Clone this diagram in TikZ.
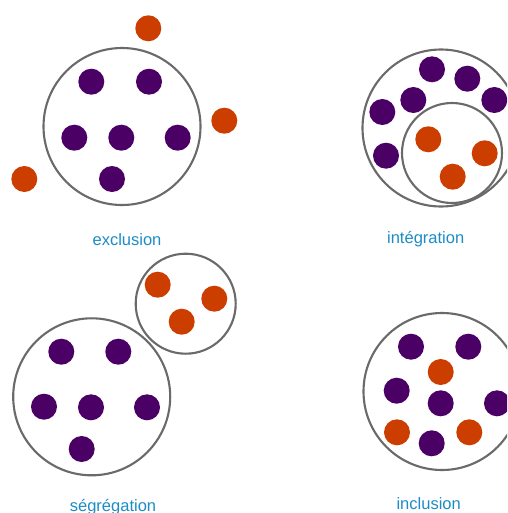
\documentclass[tikz,border=0pt]{standalone}
\usepackage{fontspec}
\setmainfont{Liberation Sans}

\definecolor{dotpurple}{HTML}{4B0066}
\definecolor{dotorange}{HTML}{CC3D00}
\definecolor{labelblue}{HTML}{1D8CC4}
\definecolor{ringgray}{HTML}{6A6A6A}

\begin{document}
\begin{tikzpicture}[
    x=0.2mm, y=-0.2mm, % one unit per pixel, y pointing down
    ring/.style={circle, draw=ringgray, line width=1.2pt, inner sep=0pt, minimum size=31.4mm},
    smallring/.style={ring, minimum size=20mm}, % sub-group circle
    purpledot/.style={circle, fill=dotpurple, inner sep=0pt, minimum size=5.2mm},
    orangedot/.style={purpledot, fill=dotorange},
    labelstyle/.style={font=\fontsize{9.4}{11}\selectfont, text=labelblue, anchor=base}
]
\clip (0,0) rectangle (507,513);

% exclusion
\node (excl_ring) [ring] at (122,126.5) {};
\node (excl_p1) [purpledot] at (91.3,81.7) {};
\node (excl_p2) [purpledot] at (149,81.7) {};
\node (excl_p3) [purpledot] at (74.3,137.7) {};
\node (excl_p4) [purpledot] at (121.3,137.7) {};
\node (excl_p5) [purpledot] at (177.7,137.7) {};
\node (excl_p6) [purpledot] at (112,179) {};
\node (excl_o1) [orangedot] at (148.3,28.3) {};
\node (excl_o2) [orangedot] at (224.3,120.7) {};
\node (excl_o3) [orangedot] at (24.3,179) {};
\node (excl_label) [labelstyle] at (127,245.7) {exclusion};

% integration: the orange group sits inside the big circle
\node (integ_ring) [ring] at (441,128) {};
\node (integ_inner) [smallring] at (452,153) {};
\node (integ_p1) [purpledot] at (432,69.3) {};
\node (integ_p2) [purpledot] at (467.3,78.7) {};
\node (integ_p3) [purpledot] at (494.3,100) {};
\node (integ_p4) [purpledot] at (413.3,100) {};
\node (integ_p5) [purpledot] at (382.3,112) {};
\node (integ_p6) [purpledot] at (386,155.7) {};
\node (integ_o1) [orangedot] at (428.3,139.3) {};
\node (integ_o2) [orangedot] at (484.7,153.3) {};
\node (integ_o3) [orangedot] at (452.7,176.7) {};
\node (integ_label) [labelstyle] at (425.7,243.5) {intégration};

% segregation: two separate circles
\node (segr_ring) [ring] at (91.7,396.8) {};
\node (segr_side) [smallring] at (185.7,303.7) {};
\node (segr_p1) [purpledot] at (61.3,351.7) {};
\node (segr_p2) [purpledot] at (118.3,351.7) {};
\node (segr_p3) [purpledot] at (44,406.7) {};
\node (segr_p4) [purpledot] at (91,407.3) {};
\node (segr_p5) [purpledot] at (147,407.3) {};
\node (segr_p6) [purpledot] at (81.7,449) {};
\node (segr_o1) [orangedot] at (157.7,284.7) {};
\node (segr_o2) [orangedot] at (214.3,298.7) {};
\node (segr_o3) [orangedot] at (181.7,321.7) {};
\node (segr_label) [labelstyle] at (113,511.2) {ségrégation};

% inclusion: everyone mixed in one circle
\node (incl_ring) [ring] at (442,391.5) {};
\node (incl_p1) [purpledot] at (411,346.7) {};
\node (incl_p2) [purpledot] at (468.3,346.7) {};
\node (incl_p3) [purpledot] at (396.7,390.7) {};
\node (incl_p4) [purpledot] at (440.7,403.3) {};
\node (incl_p5) [purpledot] at (497,403.3) {};
\node (incl_p6) [purpledot] at (431.7,443.3) {};
\node (incl_o1) [orangedot] at (440.7,372) {};
\node (incl_o2) [orangedot] at (397,432.3) {};
\node (incl_o3) [orangedot] at (469.3,432.3) {};
\node (incl_label) [labelstyle] at (428.7,509.3) {inclusion};

\end{tikzpicture}
\end{document}
